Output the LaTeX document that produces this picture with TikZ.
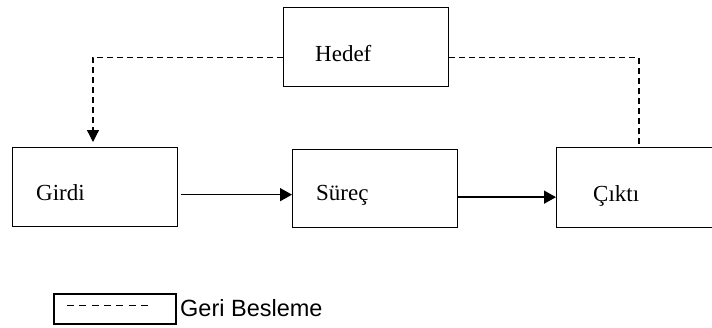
\documentclass[tikz,border=0pt]{standalone}
\usepackage{fontspec}
\setmainfont{Liberation Serif}
\newfontfamily\legendfont{Liberation Sans}
\usetikzlibrary{arrows.meta}
\begin{document}
\begin{tikzpicture}[x=1pt,y=-1pt,
  blockbox/.style={draw, line width=1.3pt, rectangle, inner sep=0pt, anchor=north west},
  label/.style={inner sep=0pt, anchor=base west, font=\fontsize{23}{27}\selectfont},
  flow/.style={line width=1.4pt, -{Triangle[length=12pt,width=13pt]}},
  fb/.style={line width=1.3pt, dash pattern=on 6pt off 4pt},
  fbarrow/.style={fb, -{Triangle[length=12pt,width=12pt]}}]
  \clip (0,0) rectangle (712,327);
  \fill[white] (0,0) rectangle (712,327);

  % process blocks
  \node[blockbox, minimum width=165pt, minimum height=79pt] (hedef) at (283,7) {};
  \node[blockbox, minimum width=165pt, minimum height=79pt] (girdi) at (12,147) {};
  \node[blockbox, minimum width=165pt, minimum height=78pt] (surec) at (292,149) {};
  \node[blockbox, minimum width=170pt, minimum height=80pt] (cikti) at (556,147) {};

  % block titles
  \node[label] (thedef) at (315,61) {Hedef};
  \node[label] (tgirdi) at (36,200) {Girdi};
  \node[label] (tsurec) at (316,200) {Süreç};
  \node[label] (tcikti) at (593,201) {Çıktı};

  % main flow
  \coordinate (a1) at ([xshift=3pt,yshift=-7.5pt]girdi.east);
  \draw[flow] (a1) -- (a1 -| surec.west);
  \coordinate (a2) at ([yshift=-8.5pt]surec.east);
  \draw[flow] (a2) -- (a2 -| cikti.west);

  % feedback paths
  \coordinate (fbl) at (93,0);
  \coordinate (fbr) at (639,0);
  \draw[fbarrow] ([yshift=-10pt]hedef.west) -| ([yshift=5pt]girdi.north -| fbl);
  \draw[fb] ([yshift=-10.5pt]hedef.east) -| (cikti.north -| fbr);

  % legend
  \node[blockbox, line width=2.2pt, minimum width=122pt, minimum height=30pt] (legend) at (53,293) {};
  \coordinate (ld1) at (67,305);
  \coordinate (ld2) at (148,305);
  \draw[line width=1pt, dash pattern=on 7pt off 5.33pt] (ld1) -- (ld2);
  \node[label, font=\legendfont\fontsize{23.5}{27}\selectfont] (tlegend) at (180,316) {Geri Besleme};
\end{tikzpicture}
\end{document}
